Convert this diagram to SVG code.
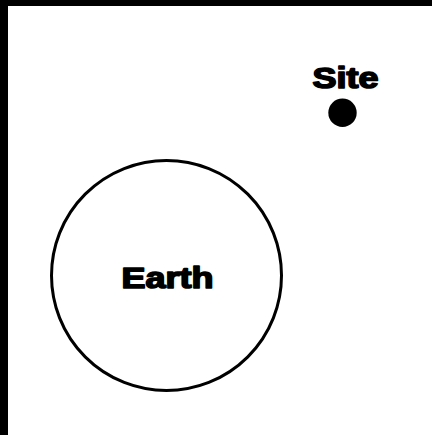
<svg xmlns="http://www.w3.org/2000/svg" width="432" height="435" viewBox="0 0 432 435">
<style>
text{font-family:"Liberation Sans",Arial,sans-serif;font-weight:bold;font-size:29px;fill:#000;stroke:#000;stroke-width:1.6;stroke-linejoin:round;text-anchor:middle}
</style>
<rect x="0" y="0" width="432" height="435" fill="#000"/>
<rect x="8" y="6" width="424" height="429" fill="#fff"/>
<g id="earth">
<circle cx="166.5" cy="275.5" r="115" fill="none" stroke="#000" stroke-width="3"/>
<text x="167.5" y="287.5" textLength="92" lengthAdjust="spacingAndGlyphs">Earth</text>
</g>
<g id="site">
<text x="345.5" y="87.5" textLength="66" lengthAdjust="spacingAndGlyphs">Site</text>
<circle cx="342.5" cy="112.8" r="14.2" fill="#000"/>
</g>
<g id="connectors"></g>
</svg>
